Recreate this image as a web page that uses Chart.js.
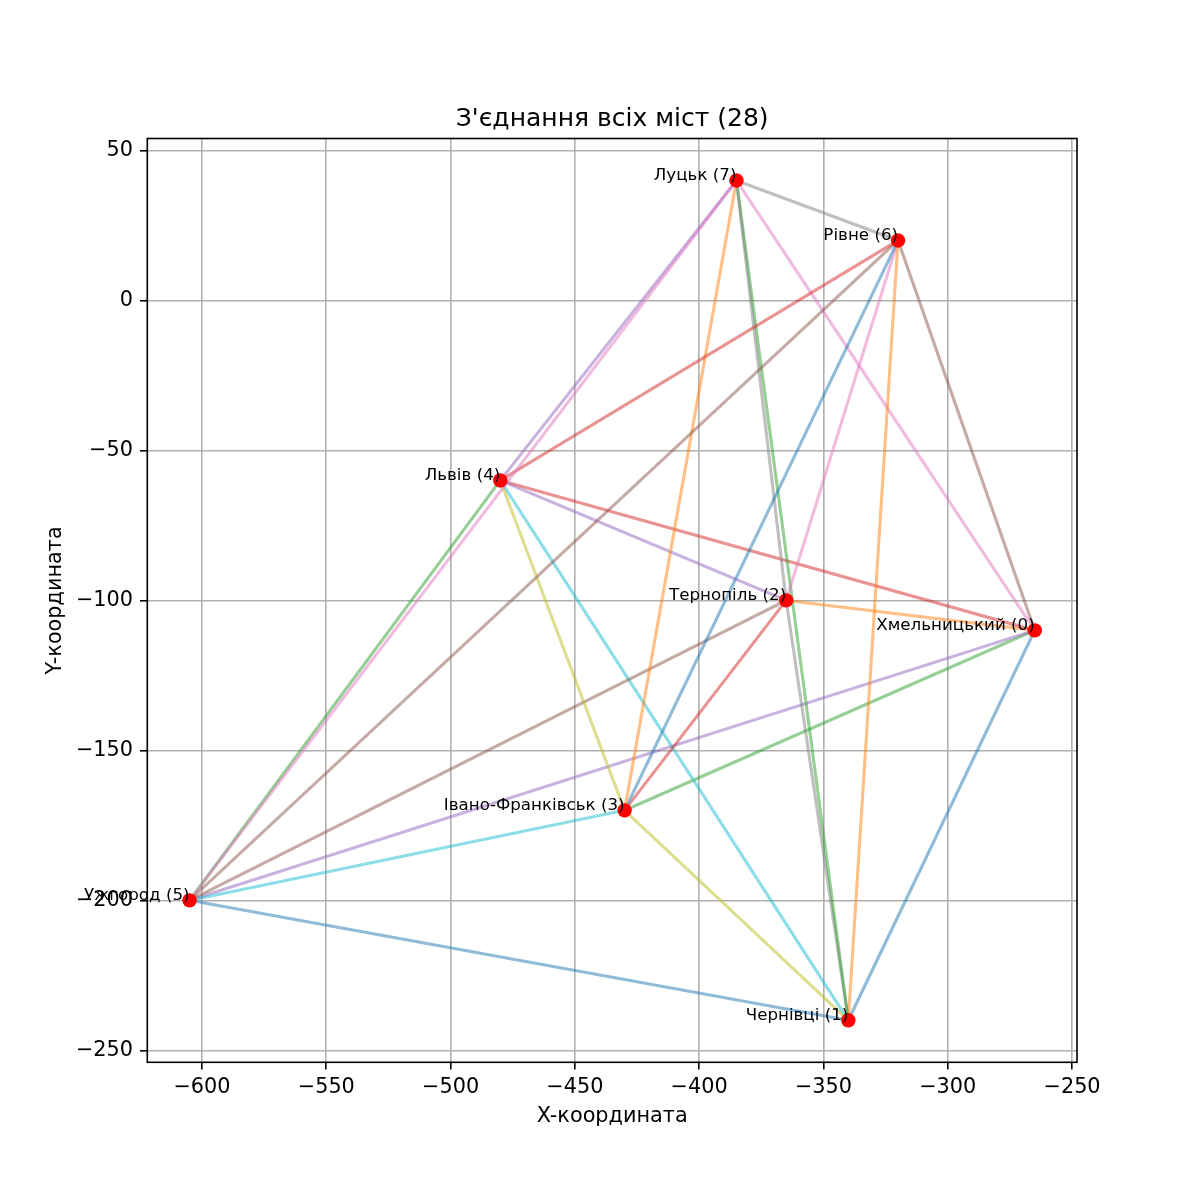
<!DOCTYPE html>
<html><head><meta charset="utf-8">
<script src="https://cdn.jsdelivr.net/npm/chart.js@4/dist/chart.umd.min.js"></script>
<style>html,body{margin:0;padding:0;background:#fff;overflow:hidden}canvas{display:block}</style>
</head><body>
<canvas id="c" width="1189" height="1185" style="width:1189px;height:1185px"></canvas>
<script>
const cityNames = ['Хмельницький (0)', 'Чернівці (1)', 'Тернопіль (2)', 'Івано-Франківськ (3)', 'Львів (4)', 'Ужгород (5)', 'Рівне (6)', 'Луцьк (7)'];
const cityX = [-265, -340, -365, -430, -480, -605, -320, -385];
const cityY = [-110, -240, -100, -170, -60, -200, 20, 40];
const xTicks = [-600, -550, -500, -450, -400, -350, -300, -250];
const yTicks = [-250, -200, -150, -100, -50, 0, 50];
const xRange = [-622, -248];
const yRange = [-254, 54];
const lineColors = ['#1f77b4', '#ff7f0e', '#2ca02c', '#d62728', '#9467bd', '#8c564b', '#e377c2', '#7f7f7f', '#bcbd22', '#17becf'];
const titleText = "З'єднання всіх міст (28)";
const xLabel = 'X-координата';
const yLabel = 'Y-координата';

const FONT = '"DejaVu Sans", sans-serif';
function hexA(h, a) {
  const n = parseInt(h.slice(1), 16);
  return `rgba(${(n >> 16) & 255},${(n >> 8) & 255},${n & 255},${a})`;
}
function fmt(v) { return v < 0 ? '\u2212' + Math.abs(v) : String(v); }

const datasets = [];
let k = 0;
for (let i = 0; i < cityNames.length; i++) {
  for (let j = i + 1; j < cityNames.length; j++) {
    datasets.push({
      type: 'line',
      data: [{x: cityX[i], y: cityY[i]}, {x: cityX[j], y: cityY[j]}],
      borderColor: hexA(lineColors[k % lineColors.length], 0.5),
      borderWidth: 3.1,
      borderCapStyle: 'square',
      pointRadius: 0,
      showLine: true,
      fill: false,
      order: -k
    });
    k++;
  }
}
datasets.push({
  type: 'scatter',
  data: cityX.map((x, i) => ({x: x, y: cityY[i]})),
  backgroundColor: '#ff0000',
  borderColor: '#ff0000',
  borderWidth: 0,
  pointRadius: 7.2,
  order: -1000
});

const overlay = {
  id: 'overlay',
  afterLayout(chart) {
    const tb = chart.titleBlock, a = chart.chartArea;
    if (tb) { tb.left = a.left; tb.right = a.right; tb.width = a.right - a.left; }
  },
  afterDatasetsDraw(chart) {
    const ctx = chart.ctx, xs = chart.scales.x, ys = chart.scales.y, a = chart.chartArea;
    ctx.save();
    ctx.strokeStyle = '#000';
    ctx.lineWidth = 1.6;
    ctx.strokeRect(a.left, a.top, a.right - a.left, a.bottom - a.top);
    ctx.font = '16.7px ' + FONT;
    ctx.fillStyle = '#000';
    ctx.textAlign = 'right';
    ctx.textBaseline = 'alphabetic';
    cityNames.forEach((n, i) => ctx.fillText(n, xs.getPixelForValue(cityX[i]), ys.getPixelForValue(cityY[i])));
    ctx.restore();
  }
};

new Chart(document.getElementById('c'), {
  type: 'scatter',
  data: {datasets: datasets},
  plugins: [overlay],
  options: {
    responsive: false,
    animation: false,
    devicePixelRatio: 1,
    layout: {padding: {left: 0, right: 112, top: 0, bottom: 0}},
    plugins: {
      legend: {display: false},
      tooltip: {enabled: false},
      title: {
        display: true, text: titleText, color: '#000',
        font: {family: FONT, size: 25, weight: 'normal', lineHeight: 1.2},
        padding: {top: 104.5, bottom: 4}
      }
    },
    scales: {
      x: {
        type: 'linear', position: 'bottom', min: xRange[0], max: xRange[1],
        afterBuildTicks: s => { s.ticks = xTicks.map(v => ({value: v})); },
        afterFit: s => { s.height = 122.7; },
        ticks: {callback: v => fmt(v), color: '#000', font: {family: FONT, size: 20.8}, padding: 5.5, maxRotation: 0, autoSkip: false},
        grid: {color: '#b0b0b0', lineWidth: 1.6, tickColor: '#000', tickWidth: 1.6, tickLength: 7.3, drawTicks: true},
        border: {display: false},
        title: {display: true, text: xLabel, color: '#000', font: {family: FONT, size: 20.8, lineHeight: 1.2}, padding: {top: 0, bottom: 55.5}}
      },
      y: {
        type: 'linear', position: 'left', min: yRange[0], max: yRange[1],
        afterBuildTicks: s => { s.ticks = yTicks.map(v => ({value: v})); },
        afterFit: s => { s.width = 147.3; },
        ticks: {callback: v => fmt(v), color: '#000', font: {family: FONT, size: 20.8}, padding: 7, autoSkip: false},
        grid: {color: '#b0b0b0', lineWidth: 1.6, tickColor: '#000', tickWidth: 1.6, tickLength: 7.3, drawTicks: true},
        border: {display: false},
        title: {display: true, text: yLabel, color: '#000', font: {family: FONT, size: 20.8, lineHeight: 1.2}, padding: {top: 43.5, bottom: 0}}
      }
    }
  }
});
</script>
</body></html>
